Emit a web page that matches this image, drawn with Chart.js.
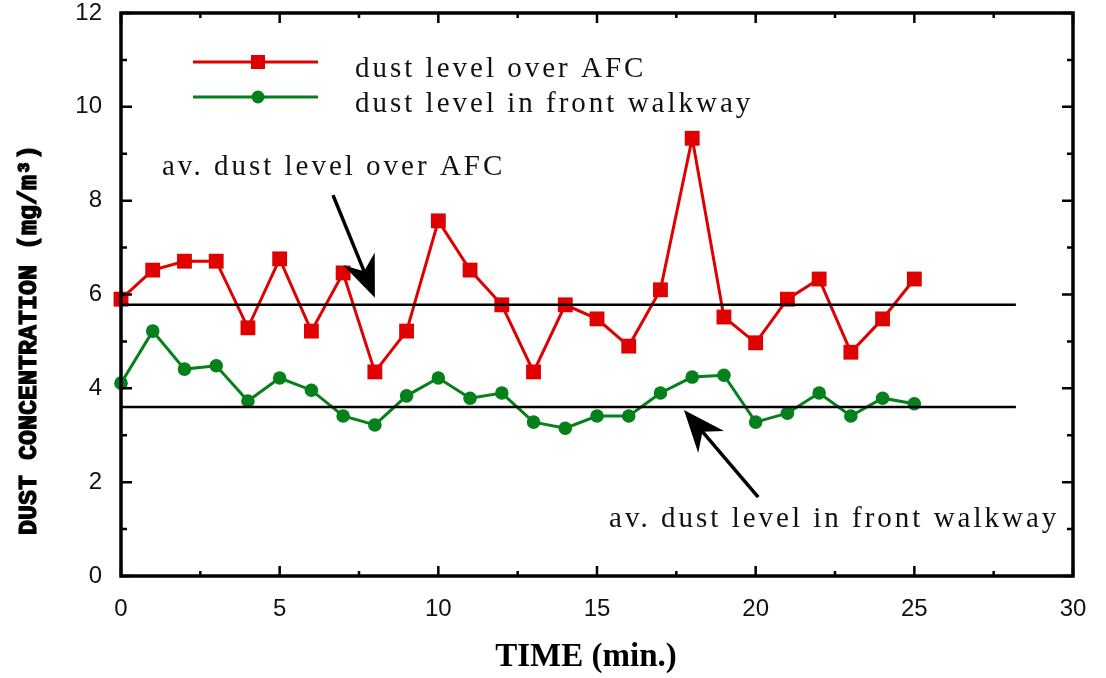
<!DOCTYPE html>
<html>
<head>
<meta charset="utf-8">
<title>Dust concentration</title>
<script src="https://cdn.jsdelivr.net/npm/chart.js@4.4.1/dist/chart.umd.min.js"></script>
<style>
  body { margin: 0; background: #fff; }
  #wrap { width: 1106px; height: 678px; }
</style>
</head>
<body>
<div id="wrap"><canvas id="dustChart" width="1106" height="678"></canvas></div>
<script>
// time in minutes
const minutos = [0, 1, 2, 3, 4, 5, 6, 7, 8, 9, 10, 11, 12, 13, 14, 15, 16, 17, 18, 19, 20, 21, 22, 23, 24, 25];

// dust concentration, mg/m3
const polvoAFC = [5.90, 6.52, 6.71, 6.71, 5.29, 6.76, 5.22, 6.46, 4.35, 5.22, 7.57, 6.52, 5.78,
  4.35, 5.78, 5.48, 4.90, 6.10, 9.33, 5.52, 4.97, 5.90, 6.33, 4.77, 5.48, 6.33];
const polvoPasillo = [4.11, 5.22, 4.41, 4.48, 3.73, 4.22, 3.96, 3.41, 3.22, 3.84, 4.22, 3.79, 3.90,
  3.28, 3.15, 3.41, 3.41, 3.90, 4.24, 4.28, 3.28, 3.47, 3.90, 3.41, 3.79, 3.67];

// average levels and where the lines stop
const promedioAFC = 5.78;
const promedioPasillo = 3.60;
const finPromedio = 28.2;

const etiquetasSerie = ["dust level over AFC", "dust level in front walkway"];
const etiquetasPromedio = ["av. dust level over AFC", "av. dust level in front walkway"];
const tituloY = "DUST CONCENTRATION (mg/m\u00b3)";
const tituloX = "TIME (min.)";

const rojo = "#df0000";
const verde = "#05801a";
const serif = "'Liberation Serif', 'Times New Roman', serif";

function puntos(xs, ys) {
  return xs.map((x, i) => ({ x, y: ys[i] }));
}

function dibujarFlecha(ctx, x1, y1, x2, y2) {
  const ang = Math.atan2(y2 - y1, x2 - x1);
  const largo = 42, ancho = 17;
  ctx.lineWidth = 3.5;
  ctx.beginPath();
  ctx.moveTo(x1, y1);
  ctx.lineTo(x2 - Math.cos(ang) * largo * 0.6, y2 - Math.sin(ang) * largo * 0.6);
  ctx.stroke();
  ctx.save();
  ctx.translate(x2, y2);
  ctx.rotate(ang);
  ctx.beginPath();
  ctx.moveTo(0, 0);
  ctx.lineTo(-largo, -ancho);
  ctx.lineTo(-largo * 0.68, 0);
  ctx.lineTo(-largo, ancho);
  ctx.closePath();
  ctx.fill();
  ctx.restore();
}

// box frame with inward ticks on all four sides, titles, legend and notes
const marco = {
  id: "marco",
  afterDraw(chart) {
    const { ctx, chartArea: a, scales } = chart;
    const sx = scales.x, sy = scales.y;
    ctx.save();
    ctx.strokeStyle = "#000";
    ctx.fillStyle = "#000";

    ctx.lineWidth = 2.5;
    for (let v = sx.min; v <= sx.max; v += 2.5) {
      const px = sx.getPixelForValue(v);
      const t = v % 5 === 0 ? 10 : 5;
      ctx.beginPath();
      ctx.moveTo(px, a.bottom); ctx.lineTo(px, a.bottom - t);
      ctx.moveTo(px, a.top); ctx.lineTo(px, a.top + t);
      ctx.stroke();
    }
    for (let v = sy.min; v <= sy.max; v += 1) {
      const py = sy.getPixelForValue(v);
      const t = v % 2 === 0 ? 11 : 6;
      ctx.beginPath();
      ctx.moveTo(a.left, py); ctx.lineTo(a.left + t, py);
      ctx.moveTo(a.right, py); ctx.lineTo(a.right - t, py);
      ctx.stroke();
    }
    ctx.lineWidth = 3.5;
    ctx.strokeRect(a.left, a.top, a.right - a.left, a.bottom - a.top);

    // axis titles
    ctx.font = "bold 25px 'Liberation Mono', 'Courier New', monospace";
    ctx.textAlign = "center";
    ctx.textBaseline = "middle";
    ctx.lineWidth = 1.2;
    ctx.save();
    ctx.translate(30, 340);
    ctx.rotate(-Math.PI / 2);
    ctx.fillText(tituloY, 0, 0);
    ctx.strokeText(tituloY, 0, 0);
    ctx.restore();
    ctx.font = "bold 33px " + serif;
    ctx.fillText(tituloX, 586, 657);

    // legend
    const filas = [{ color: rojo, forma: "rect", y: 62 }, { color: verde, forma: "circle", y: 97 }];
    ctx.textAlign = "left";
    ctx.textBaseline = "alphabetic";
    ctx.font = "29px " + serif;
    ctx.letterSpacing = "3px";
    filas.forEach((f, i) => {
      ctx.strokeStyle = f.color;
      ctx.fillStyle = f.color;
      ctx.lineWidth = 3;
      ctx.beginPath(); ctx.moveTo(193, f.y); ctx.lineTo(318, f.y); ctx.stroke();
      if (f.forma === "rect") ctx.fillRect(251, f.y - 7, 14, 14);
      else { ctx.beginPath(); ctx.arc(258, f.y, 6.5, 0, Math.PI * 2); ctx.fill(); }
      ctx.fillStyle = "#111";
      ctx.fillText(etiquetasSerie[i], 355, f.y + 15);
    });

    // notes for the two average lines
    ctx.fillStyle = "#111";
    ctx.fillText(etiquetasPromedio[0], sx.getPixelForValue(1.29), sy.getPixelForValue(8.55));
    ctx.fillText(etiquetasPromedio[1], sx.getPixelForValue(15.38), sy.getPixelForValue(1.04));
    ctx.letterSpacing = "0px";
    ctx.fillStyle = "#000";
    ctx.strokeStyle = "#000";
    dibujarFlecha(ctx, sx.getPixelForValue(6.68), sy.getPixelForValue(8.12),
      sx.getPixelForValue(8.0), sy.getPixelForValue(5.93));
    dibujarFlecha(ctx, sx.getPixelForValue(20.08), sy.getPixelForValue(1.68),
      sx.getPixelForValue(17.74), sy.getPixelForValue(3.54));
    ctx.restore();
  }
};

const config = {
  type: "line",
  data: {
    datasets: [
      {
        label: "av AFC",
        data: [{ x: 0, y: promedioAFC }, { x: finPromedio, y: promedioAFC }],
        borderColor: "#000",
        borderWidth: 2.5,
        pointRadius: 0,
      },
      {
        label: "av walkway",
        data: [{ x: 0, y: promedioPasillo }, { x: finPromedio, y: promedioPasillo }],
        borderColor: "#000",
        borderWidth: 2.5,
        pointRadius: 0,
      },
      {
        label: etiquetasSerie[0],
        data: puntos(minutos, polvoAFC),
        borderColor: rojo,
        backgroundColor: rojo,
        borderWidth: 3,
        pointStyle: "rect",
        pointRadius: 10.5,
        pointBorderWidth: 0,
      },
      {
        label: etiquetasSerie[1],
        data: puntos(minutos, polvoPasillo),
        borderColor: verde,
        backgroundColor: verde,
        borderWidth: 3,
        pointStyle: "circle",
        pointRadius: 6.8,
        pointBorderWidth: 0,
      },
    ],
  },
  options: {
    responsive: false,
    animation: false,
    clip: false,
    layout: { padding: { left: 0, top: 13, right: 33, bottom: 0 } },
    plugins: { legend: { display: false }, tooltip: { enabled: false } },
    scales: {
      x: {
        type: "linear",
        min: 0,
        max: 30,
        grid: { display: false, drawTicks: false },
        border: { display: false },
        ticks: {
          stepSize: 5,
          padding: 19,
          color: "#111",
          font: { family: "'Liberation Sans', Arial, sans-serif", size: 24 },
        },
        afterFit: (s) => {
          s.height = 102;
          s.paddingLeft = 0;
          s.paddingRight = 0;
        },
      },
      y: {
        min: 0,
        max: 12,
        grid: { display: false, drawTicks: false },
        border: { display: false },
        ticks: {
          stepSize: 2,
          padding: 19,
          color: "#111",
          font: { family: "'Liberation Sans', Arial, sans-serif", size: 24 },
        },
        afterFit: (s) => {
          s.width = 121;
          s.paddingTop = 0;
          s.paddingBottom = 0;
        },
      },
    },
  },
  plugins: [marco],
};

new Chart(document.getElementById("dustChart"), config);
</script>
</body>
</html>
